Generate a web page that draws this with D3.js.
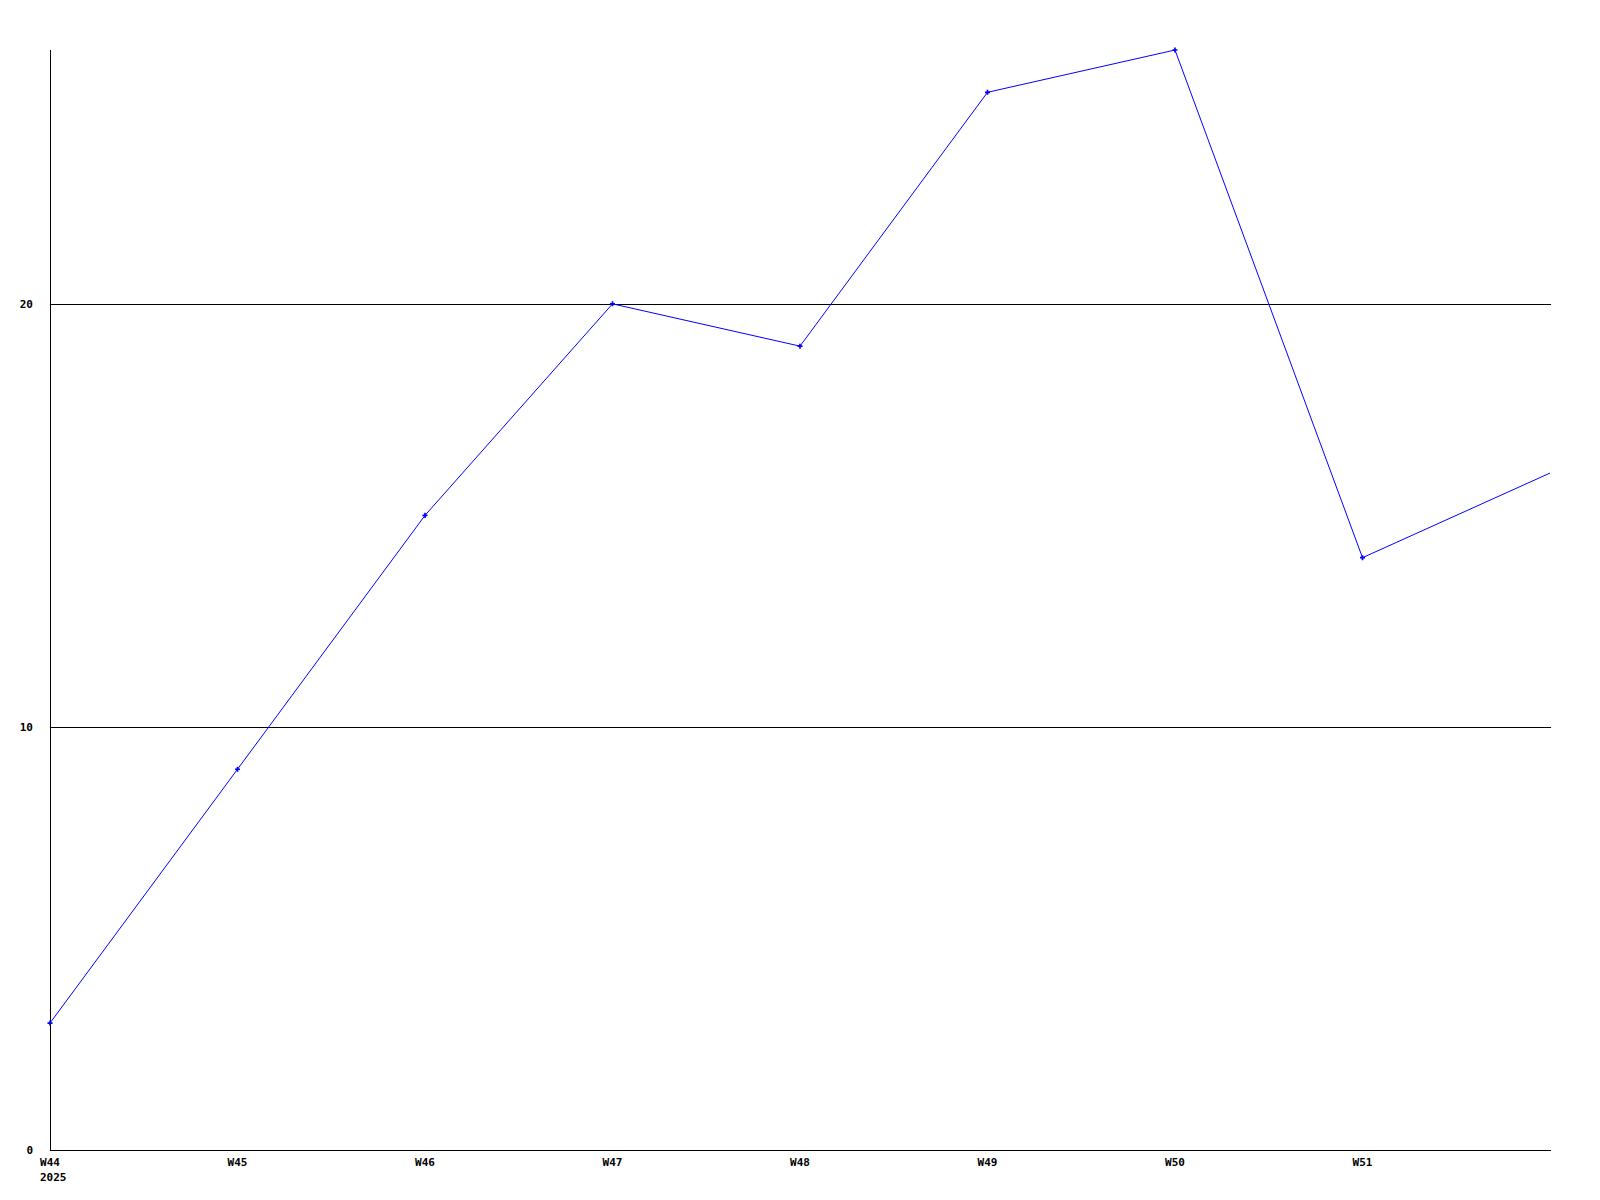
<!DOCTYPE html>
<html>
<head>
<meta charset="utf-8">
<script src="https://cdn.jsdelivr.net/npm/d3@7"></script>
<style>
  html, body { margin: 0; padding: 0; background: #fff; }
  svg { display: block; }
  .lbl { font-family: "DejaVu Sans Mono", monospace; font-size: 11px; font-weight: bold; fill: #000; }
</style>
</head>
<body>
<div id="chart"></div>
<script>
// weeks on the x axis (W52 has no label in the original)
const weeks = ['W44', 'W45', 'W46', 'W47', 'W48', 'W49', 'W50', 'W51', 'W52'];
const weekLabels = ['W44', 'W45', 'W46', 'W47', 'W48', 'W49', 'W50', 'W51'];
const values = [3, 9, 15, 20, 19, 25, 26, 14, 16];
const yTicks = [0, 10, 20];
const yearLabel = '2025';

const width = 1600, height = 1200;
const margin = {t: 50, r: 49, b: 50, l: 50};

const svg = d3.select('#chart').append('svg')
    .attr('width', width)
    .attr('height', height);

// scales
const x = d3.scalePoint()
    .domain(weeks)
    .range([margin.l, width - margin.r - 1]);

const y = d3.scaleLinear()
    .domain([0, 26])
    .range([height - margin.b, margin.t]);

// grid lines
svg.selectAll('.grid')
    .data(yTicks.filter(d => d > 0))
    .enter().append('line')
    .attr('x1', margin.l).attr('x2', width - margin.r)
    .attr('y1', d => Math.round(y(d)) + 0.5).attr('y2', d => Math.round(y(d)) + 0.5)
    .attr('stroke', '#000').attr('stroke-width', 1)
    .attr('shape-rendering', 'crispEdges');

// axes lines
svg.append('line')
    .attr('x1', margin.l + 0.5).attr('x2', margin.l + 0.5)
    .attr('y1', margin.t).attr('y2', y(0))
    .attr('stroke', '#000').attr('shape-rendering', 'crispEdges');
svg.append('line')
    .attr('x1', margin.l).attr('x2', width - margin.r)
    .attr('y1', y(0) + 0.5).attr('y2', y(0) + 0.5)
    .attr('stroke', '#000').attr('shape-rendering', 'crispEdges');

// y labels
svg.selectAll('.ylab')
    .data(yTicks)
    .enter().append('text')
    .attr('class', 'lbl')
    .attr('x', 33)
    .attr('y', d => y(d) + 4)
    .attr('text-anchor', 'end')
    .text(d => d);

// x labels
svg.selectAll('.xlab')
    .data(weekLabels)
    .enter().append('text')
    .attr('class', 'lbl')
    .attr('x', d => x(d))
    .attr('y', y(0) + 16)
    .attr('text-anchor', 'middle')
    .text(d => d);

svg.append('text')
    .attr('class', 'lbl')
    .attr('x', x(weeks[0]) - 10)
    .attr('y', y(0) + 31)
    .text(yearLabel);

// the series
const pts = weeks.map((w, i) => ({w: w, v: values[i]}));

svg.append('path')
    .datum(pts)
    .attr('fill', 'none')
    .attr('stroke', '#0000ff')
    .attr('stroke-width', 1)
    .attr('d', d3.line().x(d => x(d.w)).y(d => y(d.v)));

// markers (last, incomplete week has none)
svg.selectAll('.mark')
    .data(pts.slice(0, weekLabels.length))
    .enter().append('path')
    .attr('transform', d => `translate(${x(d.w)},${y(d.v)})`)
    .attr('d', d3.symbol(d3.symbolCross, 14)())
    .attr('fill', '#0000ff');
</script>
</body>
</html>
